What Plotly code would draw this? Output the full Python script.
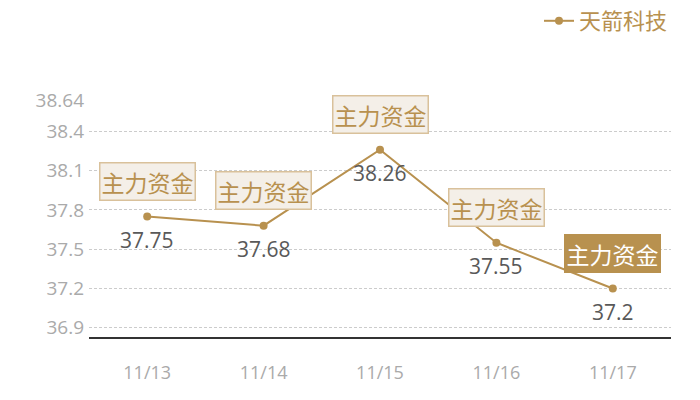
import plotly.graph_objects as go

# Data
dates = ["11/13", "11/14", "11/15", "11/16", "11/17"]
prices = [37.75, 37.68, 38.26, 37.55, 37.2]
tick_vals = [36.9, 37.2, 37.5, 37.8, 38.1, 38.4, 38.64]
box_label = "主力资金"
series_name = "天箭科技"

gold = "#B8914F"
font_family = "Noto Sans CJK SC, Open Sans, sans-serif"
num_family = "Open Sans, Noto Sans CJK SC, sans-serif"

fig = go.Figure()

fig.add_trace(go.Scatter(
    x=dates,
    y=prices,
    name=series_name,
    mode="lines+markers",
    line=dict(color=gold, width=2),
    marker=dict(color=gold, size=8),
    showlegend=True
))

for i, (d, p) in enumerate(zip(dates, prices)):
    last = i == len(dates) - 1
    # value label under the point
    fig.add_annotation(
        x=d, y=p, text=str(p), showarrow=False, yshift=-23,
        font=dict(size=21, color="#595959", family=num_family)
    )
    # "主力资金" box above the point, last one highlighted
    fig.add_annotation(
        x=d, y=p,
        text=box_label,
        showarrow=False,
        yshift=35,
        font=dict(size=23, color="white" if last else gold, family=font_family),
        bgcolor=gold if last else "#F4EFE8",
        bordercolor=gold if last else "#D9C19B",
        borderwidth=1.5,
        borderpad=1
    )

fig.update_layout(
    width=700,
    height=400,
    plot_bgcolor="white",
    paper_bgcolor="white",
    margin=dict(l=89, r=29, t=100, b=63, autoexpand=False),
    font=dict(family=font_family),
    legend=dict(
        orientation="h",
        xref="container", yref="container",
        x=0.77, xanchor="left",
        y=1.0, yanchor="top",
        font=dict(size=22, color=gold, family=font_family),
    )
)

fig.update_xaxes(
    range=[-0.5, len(dates) - 0.5],
    showline=True, linecolor="#333333", linewidth=1.5,
    showgrid=False, ticks="", automargin=False,
    ticklabelstandoff=19,
    tickfont=dict(size=18, color="#AAAAAA", family=num_family)
)
fig.update_yaxes(
    range=[36.83, 38.64],
    tickvals=tick_vals,
    ticktext=[str(v) for v in tick_vals],
    showgrid=True, gridcolor="#CCCCCC", griddash="3px,2px", gridwidth=0.8,
    zeroline=False, showline=False, automargin=False,
    ticklabelstandoff=4,
    tickfont=dict(size=19, color="#AAAAAA", family=num_family)
)

# remove default page margin so the 700x400 figure fills the window
fig.write_html("out.html", config={"displayModeBar": False},
               post_script="document.body.style.margin='0';")
